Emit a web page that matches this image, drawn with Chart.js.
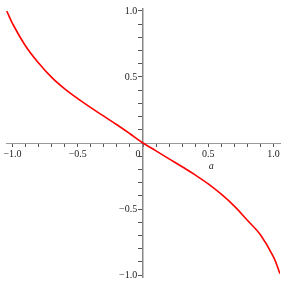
<!DOCTYPE html>
<html>
<head>
<meta charset="utf-8">
<script src="https://cdn.jsdelivr.net/npm/chart.js@4.4.1/dist/chart.umd.min.js"></script>
<style>
  html, body { margin: 0; padding: 0; background: #fff; }
  #wrap { width: 286px; height: 286px; }
</style>
</head>
<body>
<div id="wrap"><canvas id="plot" width="286" height="286"></canvas></div>
<script>
// curve samples
const aValues = [-1.044, -1.0, -0.9, -0.8, -0.7, -0.6, -0.5, -0.4, -0.3, -0.2, -0.1, 0,
                 0.1, 0.2, 0.3, 0.4, 0.5, 0.6, 0.7, 0.8, 0.9, 1.0, 1.05];
const fValues = [1.0, 0.905, 0.735, 0.606, 0.497, 0.41, 0.336, 0.268, 0.203, 0.138, 0.07, 0,
                 -0.06, -0.12, -0.18, -0.242, -0.31, -0.388, -0.478, -0.585, -0.695, -0.8625, -0.99];
const xTickLabels = [-1.0, -0.5, 0, 0.5, 1.0];
const yTickLabels = [-1.0, -0.5, 0.5, 1.0];
const axisLabel = 'a';

const FONT = 'Liberation Serif, Times New Roman, serif';

function fmt(v) {
    return (v < 0 ? '\u2212' : '') + Math.abs(v).toFixed(1);
}

function isLabelled(list, v) {
    return list.some(t => Math.abs(t - v) < 1e-6);
}

// axis name drawn under the 0.5 tick
const axisNamePlugin = {
    id: 'axisName',
    afterDraw(chart) {
        const ctx = chart.ctx;
        const x = chart.scales.x.getPixelForValue(0.5);
        const y = chart.scales.y.getPixelForValue(0);
        ctx.save();
        ctx.font = 'italic 10px ' + FONT;
        ctx.fillStyle = '#222';
        ctx.textAlign = 'center';
        ctx.textBaseline = 'top';
        ctx.fillText(axisLabel, x + 3, y + 18);
        ctx.restore();
    }
};

const points = aValues.map((a, i) => ({ x: a, y: fValues[i] }));

function tenthTicks(scale) {
    const t = [];
    for (let i = -10; i <= 10; i++) t.push({ value: i / 10 });
    scale.ticks = t;
}

new Chart(document.getElementById('plot'), {
    type: 'line',
    data: {
        datasets: [{
            data: points,
            borderColor: '#ff0000',
            borderWidth: 1.6,
            pointRadius: 0,
            tension: 0.4,
            fill: false
        }]
    },
    options: {
        responsive: false,
        animation: false,
        layout: { padding: { left: 6, right: 6, top: 8, bottom: 9 } },
        plugins: { legend: { display: false }, tooltip: { enabled: false } },
        scales: {
            x: {
                type: 'linear',
                position: { y: 0 },
                min: -1.05,
                max: 1.05,
                afterBuildTicks: tenthTicks,
                ticks: {
                    autoSkip: false,
                    maxRotation: 0,
                    padding: 2,
                    color: '#222',
                    font: { family: FONT, size: 10 },
                    // the origin label sits left of the y axis
                    callback: (v) => {
                        if (!isLabelled(xTickLabels, v)) return '';
                        if (Math.abs(v) < 1e-9) return '0\u2002\u2002';
                        return fmt(v);
                    }
                },
                grid: {
                    drawOnChartArea: false,
                    drawTicks: true,
                    tickLength: 3,
                    color: '#555'
                },
                border: { display: true, color: '#999', width: 1 }
            },
            y: {
                type: 'linear',
                position: { x: 0 },
                min: -1.015,
                max: 1.015,
                afterBuildTicks: tenthTicks,
                ticks: {
                    autoSkip: false,
                    color: '#222',
                    font: { family: FONT, size: 10 },
                    callback: (v) => isLabelled(yTickLabels, v) ? fmt(v) + '\u2002\u200A' : ''
                },
                grid: {
                    drawOnChartArea: false,
                    drawTicks: true,
                    tickLength: 4,
                    color: '#555'
                },
                border: { display: true, color: '#888', width: 1.5 }
            }
        }
    },
    plugins: [axisNamePlugin]
});
</script>
</body>
</html>
